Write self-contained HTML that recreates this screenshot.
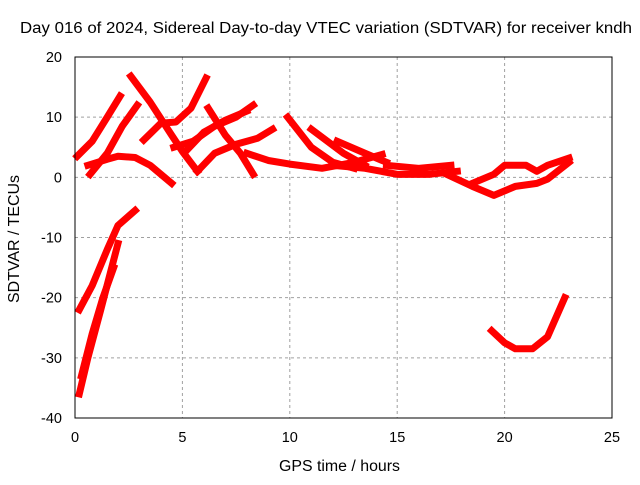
<!DOCTYPE html>
<html><head><meta charset="utf-8"><style>
body{margin:0;background:#fff}
svg text{font-family:"Liberation Sans",sans-serif;fill:#000}
</style></head><body>
<svg id="c" width="640" height="480" xmlns="http://www.w3.org/2000/svg">
<rect width="640" height="480" fill="#fff"/>
<text x="20" y="33" font-size="15.5" textLength="612" lengthAdjust="spacingAndGlyphs">Day 016 of 2024, Sidereal Day-to-day VTEC variation (SDTVAR) for receiver kndh</text>
<text x="279" y="471" font-size="15.5" textLength="121" lengthAdjust="spacingAndGlyphs">GPS time / hours</text>
<text transform="translate(19,303) rotate(-90)" font-size="15.5" textLength="128" lengthAdjust="spacingAndGlyphs">SDTVAR / TECUs</text>
<g id="grid"></g><g id="ticks"></g><g id="marks"></g>
<rect x="75" y="57" width="537" height="361" fill="none" stroke="#000" stroke-width="1"/>
</svg>
<script>
const xTicks=[0,5,10,15,20,25];
const yTicks=[20,10,0,-10,-20,-30,-40];
const tracks=[
[[0.1,3.5],[0.8,6],[1.5,10],[2.1,13.5]],
[[0.7,0.5],[1.5,4],[2.2,8.5],[2.9,12]],
[[0.6,2],[1.5,3],[2,3.5],[2.8,3.3],[3.5,2],[4.5,-1]],
[[2.6,16.8],[3.5,12.5],[4.5,7],[5,4.3],[5.7,1]],
[[3.2,6.2],[4,9],[4.7,9.2],[5.4,11.5],[6.1,16.5]],
[[5.7,1],[6.5,4],[7.5,5.5],[8.5,6.5],[9.2,8]],
[[6.2,11.5],[7,7],[7.7,4],[8.3,0.5]],
[[4.6,5],[5.5,6],[6.5,8.5],[7.5,10],[8.3,12]],
[[5.2,4.5],[6,7.5],[7,9.5],[8,11]],
[[8,4],[9,2.8],[10,2.2],[11.5,1.5],[13,2.5],[14.3,3.8]],
[[9.9,10],[11,5],[12,2.5],[13,1.5]],
[[11,8],[12.5,4],[13.5,2]],
[[12.2,6],[13.5,4],[14.5,2.5]],
[[12,2],[13.5,1.5],[15,0.5],[16.5,0.5],[17.8,1]],
[[14.5,2],[16,1.5],[17.5,2]],
[[17.3,0.5],[18.5,-1.5],[19.5,-3],[20.5,-1.5],[21.5,-1],[22,-0.3],[23,2.5]],
[[18.5,-1],[19.5,0.5],[20,2],[21,2],[21.5,1],[22,2],[23,3.2]],
[[0.2,-22],[0.8,-18],[1.5,-12],[2,-8],[2.8,-5.5]],
[[0.2,-36],[0.6,-30],[1.2,-22],[2,-11]],
[[0.3,-33],[0.8,-26],[1.3,-20],[1.8,-15]],
[[19.4,-25.5],[20,-27.5],[20.5,-28.5],[21.3,-28.5],[22,-26.5],[22.8,-20]]
];
const NS="http://www.w3.org/2000/svg";
const X=h=>75+h*537/25, Y=v=>57+(20-v)*361/60;
const g=document.getElementById('grid'),t=document.getElementById('ticks'),m=document.getElementById('marks');
function mk(p,tag,a){const e=document.createElementNS(NS,tag);for(const k in a)e.setAttribute(k,a[k]);p.appendChild(e);return e;}
xTicks.forEach(v=>{const x=X(v);
 if(v>0&&v<25){const l=mk(g,'line',{x1:x,x2:x,y1:57,y2:418,stroke:'#a0a0a0','stroke-dasharray':'3,3'});
 
 }
 const tl=mk(t,'text',{x:x,y:442,'font-size':14.5,'text-anchor':'middle'});tl.textContent=v;
 
 });
yTicks.forEach(v=>{const y=Y(v);
 if(v>-40&&v<20){const l=mk(g,'line',{x1:75,x2:612,y1:y,y2:y,stroke:'#a0a0a0','stroke-dasharray':'3,3'});
 
 }
 const tl=mk(t,'text',{x:62,y:y+5,'font-size':14.5,'text-anchor':'end'});tl.textContent=v;
 
 });
tracks.forEach(tr=>{const p=mk(m,'polyline',{points:tr.map(d=>X(d[0])+','+Y(d[1])).join(' '),fill:'none',stroke:'#ff0000','stroke-width':7,'stroke-linejoin':'round','stroke-linecap':'square'});
 
 });
</script>
</body></html>
